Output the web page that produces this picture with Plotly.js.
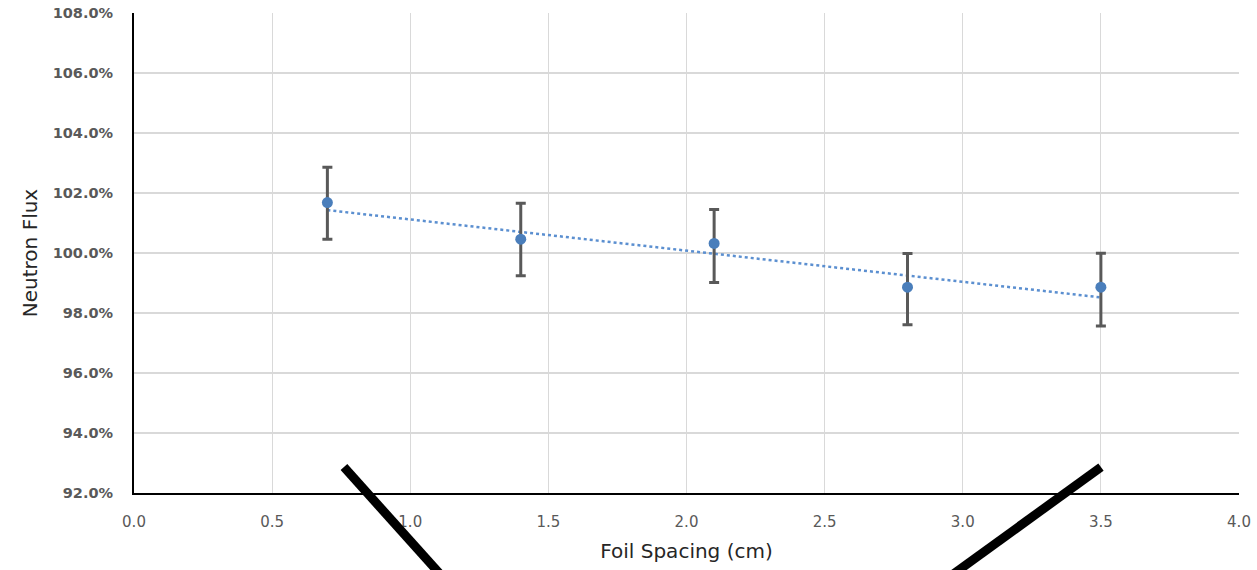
<!DOCTYPE html>
<html>
<head>
<meta charset="utf-8">
<script src="https://cdn.plot.ly/plotly-3.0.1.min.js"></script>
<style>
  html, body { margin: 0; padding: 0; background: #fff; }
  #chart { width: 1257px; height: 570px; }
</style>
</head>
<body>
<div id="chart"></div>
<script>
// Data
const spacing = [0.7, 1.4, 2.1, 2.8, 3.5];            // Foil Spacing (cm)
const flux = [101.68, 100.46, 100.32, 98.86, 98.86];   // Neutron Flux (%)
const errPlus = [1.18, 1.20, 1.13, 1.12, 1.13];
const errMinus = [1.22, 1.22, 1.30, 1.25, 1.29];
const trendX = [0.7, 3.5];                              // linear trendline ends
const trendY = [101.43, 98.52];
const xTicks = [0.0, 0.5, 1.0, 1.5, 2.0, 2.5, 3.0, 3.5, 4.0];
const xTickLabels = ['0.0', '0.5', '1.0', '1.5', '2.0', '2.5', '3.0', '3.5', '4.0'];
const yTicks = [92, 94, 96, 98, 100, 102, 104, 106, 108];
const yTickLabels = ['92.0%', '94.0%', '96.0%', '98.0%', '100.0%', '102.0%', '104.0%', '106.0%', '108.0%'];

const traces = [
  {
    x: trendX, y: trendY, type: 'scatter', mode: 'lines',
    line: { color: '#5b8fd0', width: 2.5, dash: 'dot' },
    hoverinfo: 'skip', showlegend: false
  },
  {
    x: spacing, y: flux, type: 'scatter', mode: 'markers',
    marker: { color: '#4a7ebb', size: 11 },
    error_y: {
      type: 'data', symmetric: false, array: errPlus, arrayminus: errMinus,
      color: '#595959', thickness: 3, width: 5
    },
    showlegend: false
  }
];

const layout = {
  width: 1257, height: 570,
  margin: { l: 134, r: 18, t: 13, b: 77 },
  paper_bgcolor: '#ffffff', plot_bgcolor: '#ffffff',
  showlegend: false,
  xaxis: {
    range: [0, 4], tickmode: 'array', tickvals: xTicks, ticktext: xTickLabels,
    showgrid: true, gridcolor: '#d9d9d9', gridwidth: 1.2,
    showline: true, linecolor: '#000000', linewidth: 2,
    zeroline: false, ticks: '',
    ticklabelstandoff: 14,
    tickfont: { family: 'DejaVu Sans', size: 15, color: '#595959' },
    title: { text: 'Foil Spacing (cm)', standoff: 14,
             font: { family: 'DejaVu Sans', size: 20, color: '#262626' } }
  },
  yaxis: {
    range: [92, 108], tickmode: 'array', tickvals: yTicks, ticktext: yTickLabels,
    showgrid: true, gridcolor: '#d9d9d9', gridwidth: 1.2,
    showline: true, linecolor: '#000000', linewidth: 2,
    zeroline: false, ticks: '',
    ticklabelstandoff: 16,
    tickfont: { family: 'DejaVu Sans', size: 14.5, color: '#595959', weight: 'bold' },
    title: { text: 'Neutron Flux', standoff: 10,
             font: { family: 'DejaVu Sans', size: 20, color: '#262626' } }
  },
  shapes: [
    { type: 'line', xref: 'paper', yref: 'paper',
      x0: 0.190, y0: 0.054, x1: 0.2817, y1: -0.181,
      line: { color: '#000000', width: 9 } },
    { type: 'line', xref: 'paper', yref: 'paper',
      x0: 0.8751, y0: 0.054, x1: 0.7342, y1: -0.181,
      line: { color: '#000000', width: 9 } }
  ]
};

Plotly.newPlot('chart', traces, layout, { displayModeBar: false, staticPlot: true });
</script>
</body>
</html>
